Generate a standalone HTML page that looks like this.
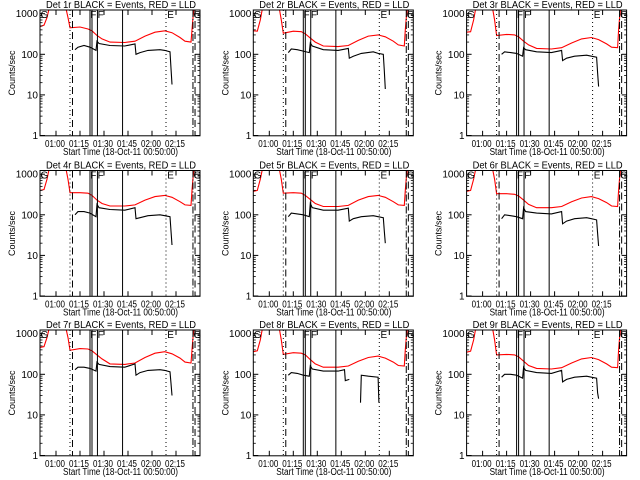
<!DOCTYPE html>
<html><head><meta charset="utf-8"><style>
html,body{margin:0;padding:0;background:#fff;}
svg{display:block;font-family:"Liberation Sans",sans-serif;}
</style></head><body>
<svg id="c" width="640" height="480" viewBox="0 0 640 480"></svg>
<script>
const tickLabels = ["01:00","01:15","01:30","01:45","02:00","02:15"];
const tickTimes = [10,25,40,55,70,85];
const yTicks = [1,10,100,1000];
const yTickLabels = ["1","10","100","1000"];
const detNames = ["1r","2r","3r","4r","5r","6r","7r","8r","9r"];
const redTimes = [0,2.5,4.4,5.6,16.3,17.5,18.75,25,30,32.5,35.6,38.75,43.75,53,59.4,65.6,71.9,78,82.5,87.5,90.6,94.4,95,95.6,96.25];
const red1 = [480,520,800,1300,1300,800,450,470,420,380,290,240,200,195,210,280,350,380,340,260,210,200,400,800,1300];
const red2 = [380,370,700,1300,1300,700,330,370,360,320,250,200,160,155,165,220,280,300,270,210,170,160,400,800,1300];
const red3 = [350,360,700,1300,1300,700,290,310,300,270,210,170,140,135,145,190,240,260,230,180,150,145,400,800,1300];
const red4 = [400,420,750,1300,1300,750,350,350,340,300,230,190,165,165,175,230,280,300,270,210,175,170,400,800,1300];
const red5 = [380,400,750,1300,1300,750,340,350,340,300,240,190,160,160,170,230,280,300,270,210,175,170,400,800,1300];
const red6 = [380,400,750,1300,1300,750,330,330,320,290,230,180,150,150,160,210,260,280,250,200,165,160,400,800,1300];
const red7 = [460,480,800,1300,1300,800,390,430,420,380,300,240,180,175,190,260,330,360,320,250,200,190,400,800,1300];
const red8 = [360,380,700,1300,1300,700,310,340,330,300,230,180,150,150,160,210,260,280,250,200,165,160,400,800,1300];
const red9 = [350,370,700,1300,1300,700,300,310,300,270,210,165,140,135,145,190,240,260,230,180,150,145,400,800,1300];
const blackTimes = [21.9,23.75,27.5,31.25,35,35.6,36.9,43.75,53,59.4,60,62.5,67.5,75,78,81.25,81.9,82.5];
const black1 = [130,150,165,150,125,210,185,165,160,180,100,110,125,130,125,115,45,18];
const black2 = [110,135,130,120,110,190,160,130,125,140,80,90,105,115,105,100,40,14];
const black3 = [100,115,110,105,90,145,130,115,110,125,70,80,90,95,90,85,35,16];
const black4 = [100,120,120,110,90,180,150,135,130,150,80,85,95,100,95,90,40,18];
const black5 = [90,110,105,100,90,190,150,130,130,145,70,80,90,95,90,85,40,20];
const black6 = [80,100,95,90,80,150,120,110,105,120,60,70,80,85,80,75,35,17];
const black7 = [130,150,150,140,120,200,175,155,150,180,95,110,125,130,125,115,60,30];
const blackTimes8 = [21.9,23.75,27.5,31.25,35,35.6,36.9,43.75,53,57,57.5,60,null,67,67.5,72,78,78.5];
const black8 = [95,110,105,95,90,160,135,120,120,130,70,75,null,20,95,90,85,20];
const black9 = [85,100,100,95,80,150,125,110,105,125,65,75,85,90,85,80,35,25];
const reds = [red1,red2,red3,red4,red5,red6,red7,red8,red9];
const blacks = [black1,black2,black3,black4,black5,black6,black7,black8,black9];
const markerTimes = [18.75,20.3,31.25,32.5,35.9,51.6,78.75,95.6,96.9];
const markerStyles = ["dot","dash","solid","solid","solid","solid","dot","dashdot","dash"];

const NS="http://www.w3.org/2000/svg";
const svg=document.getElementById('c');
function mk(tag,attrs,parent){const e=document.createElementNS(NS,tag);for(const k in attrs)e.setAttribute(k,attrs[k]);(parent||svg).appendChild(e);return e;}

for(let p=0;p<9;p++){
  const ox=(p%3)*213.3, oy=[0,160.5,320][Math.floor(p/3)];
  const L=ox+40,R=ox+200,T=oy+10,B=oy+135.8;
  const xs=t=>L+t*1.6;
  const ys=v=>oy+135.5-40.6*Math.log10(v);
  const g=mk('g',{});
  
  
  const cid='clip'+p;
  const cp=mk('clipPath',{id:cid},g);mk('rect',{x:L,y:T,width:R-L,height:B-T},cp);
  const plot=mk('g',{'clip-path':'url(#'+cid+')'},g);
  let d='',pen=false;
  reds[p].forEach((v,i)=>{if(v==null){pen=false;return;}d+=(pen?'L':'M')+xs(redTimes[i]).toFixed(1)+' '+ys(v).toFixed(1);pen=true;});
  const rl=mk('path',{d:d,fill:'none',stroke:'#f00','stroke-width':1.1},plot);
  
  
  const bt=p===7?blackTimes8:blackTimes;
  d='';pen=false;
  blacks[p].forEach((v,i)=>{if(v==null||bt[i]==null){pen=false;return;}d+=(pen?'L':'M')+xs(bt[i]).toFixed(1)+' '+ys(v).toFixed(1);pen=true;});
  const bl=mk('path',{d:d,fill:'none',stroke:'#000','stroke-width':1.1},plot);
  
  
  markerTimes.forEach((t,i)=>{
    const s=markerStyles[i];const a={x1:xs(t),x2:xs(t),y1:T,y2:B,stroke:'#000','stroke-width':1};
    if(s==='dot')a['stroke-dasharray']='1,3';if(s==='dash')a['stroke-dasharray']='7,4';if(s==='dashdot')a['stroke-dasharray']='7,2,1,2';
    const m=mk('line',a,g);
    
    
  });
  [['G',L+0.5],['F',xs(31.4)],['F',xs(36)],['E',xs(79.5)],['G',R-6.5]].forEach(([ch,x])=>{
    const tx=mk('text',{x:x,y:T+8,'font-size':10},g);tx.textContent=ch;
    
    
  });
  const fr=mk('rect',{x:L,y:T,width:R-L,height:B-T,fill:'none',stroke:'#000','stroke-width':1},g);
  
  
  yTicks.forEach((v,i)=>{
    const y=ys(v);
    mk('line',{x1:L,x2:L+5,y1:y,y2:y,stroke:'#000'},g);mk('line',{x1:R,x2:R-5,y1:y,y2:y,stroke:'#000'},g);
    const tl=mk('text',{x:L-2,y:y+3.5,'font-size':10,'text-anchor':'end'},g);tl.textContent=yTickLabels[i];
    
    
    if(i<3)for(let k=2;k<10;k++){const yy=ys(v*k);mk('line',{x1:L,x2:L+2.5,y1:yy,y2:yy,stroke:'#000','stroke-width':0.8},g);mk('line',{x1:R,x2:R-2.5,y1:yy,y2:yy,stroke:'#000','stroke-width':0.8},g);}
  });
  tickTimes.forEach((t,i)=>{
    const x=xs(t);
    mk('line',{x1:x,x2:x,y1:B,y2:B-5,stroke:'#000'},g);mk('line',{x1:x,x2:x,y1:T,y2:T+5,stroke:'#000'},g);
    const tl=mk('text',{x:x-1,y:B+11,'font-size':10,'text-anchor':'middle',textLength:20,lengthAdjust:'spacingAndGlyphs'},g);tl.textContent=tickLabels[i];
    
    
  });
  const title=mk('text',{x:ox+121,y:oy+8,'font-size':10,'text-anchor':'middle',textLength:150,lengthAdjust:'spacingAndGlyphs'},g);
  title.textContent='Det '+detNames[p]+' BLACK = Events, RED = LLD';
  
  
  const xl=mk('text',{x:ox+120.5,y:oy+155,'font-size':10,'text-anchor':'middle',textLength:115,lengthAdjust:'spacingAndGlyphs'},g);
  xl.textContent='Start Time (18-Oct-11 00:50:00)';
  
  
  const yl=mk('text',{x:0,y:0,'font-size':9,'text-anchor':'middle',textLength:45,lengthAdjust:'spacingAndGlyphs',transform:'translate('+(ox+15)+','+(oy+73)+') rotate(-90)'},g);
  yl.textContent='Counts/sec';
  
  
}
</script>
</body></html>
